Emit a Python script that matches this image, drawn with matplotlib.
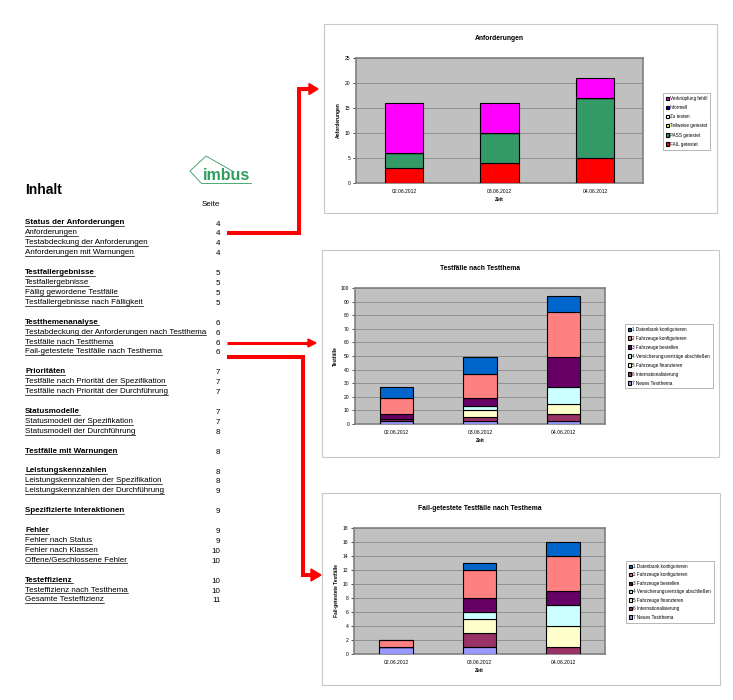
import numpy as np
import matplotlib
matplotlib.use('Agg')
import matplotlib.pyplot as plt
from matplotlib.patches import Rectangle, Polygon

plt.rcParams['font.family'] = ['Liberation Sans', 'DejaVu Sans']

W, H = 733, 700

# ---- data ----
dates = ['02.06.2012', '03.06.2012', '04.06.2012']

# Anforderungen (bottom -> top)
req_labels = ['FAIL getestet', 'PASS getestet', 'Teilweise getestet',
              'Zu testen', 'Informell', 'Verknüpfung fehlt!']
req_fail = [3, 4, 5]
req_pass = [3, 6, 12]
req_partial = [0, 0, 0]
req_todo = [0, 0, 0]
req_informal = [0, 0, 0]
req_nolink = [10, 6, 4]
req_colors = ['#FF0000', '#339966', '#FFFF00', '#FFFFFF', '#0000FF', '#FF00FF']

# Testthemen (bottom -> top: 7 ... 1)
topic_labels = ['7 Neues Testthema', '6 Internationalisierung',
                '5 Fahrzeuge finanzieren', '4 Versicherungsverträge abschließen',
                '3 Fahrzeuge bestellen', '2 Fahrzeuge konfigurieren',
                '1 Datenbank konfigurieren']
topic_colors = ['#9999FF', '#993366', '#FFFFCC', '#CCFFFF',
                '#660066', '#FF8080', '#0066CC']

tc_t7 = [2, 2, 2]
tc_t6 = [2, 3, 5]
tc_t5 = [0, 5, 8]
tc_t4 = [0, 3, 12]
tc_t3 = [3, 6, 22]
tc_t2 = [12, 18, 33]
tc_t1 = [8, 12, 12]

fail_t7 = [1, 1, 0]
fail_t6 = [0, 2, 1]
fail_t5 = [0, 2, 3]
fail_t4 = [0, 1, 3]
fail_t3 = [0, 2, 2]
fail_t2 = [1, 4, 5]
fail_t1 = [0, 1, 2]

# table of contents: (text, page, bold); None = blank line
toc = [
    ('Status der Anforderungen', '4', True),
    ('Anforderungen', '4', False),
    ('Testabdeckung der Anforderungen', '4', False),
    ('Anforderungen mit Warnungen', '4', False),
    None,
    ('Testfallergebnisse', '5', True),
    ('Testfallergebnisse', '5', False),
    ('Fällig gewordene Testfälle', '5', False),
    ('Testfallergebnisse nach Fälligkeit', '5', False),
    None,
    ('Testthemenanalyse', '6', True),
    ('Testabdeckung der Anforderungen nach Testthema', '6', False),
    ('Testfälle nach Testthema', '6', False),
    ('Fail-getestete Testfälle nach Testhema', '6', False),
    None,
    ('Prioritäten', '7', True),
    ('Testfälle nach Priorität der Spezifikation', '7', False),
    ('Testfälle nach Priorität der Durchführung', '7', False),
    None,
    ('Statusmodelle', '7', True),
    ('Statusmodell der Spezifikation', '7', False),
    ('Statusmodell der Durchführung', '8', False),
    None,
    ('Testfälle mit Warnungen', '8', True),
    None,
    ('Leistungskennzahlen', '8', True),
    ('Leistungskennzahlen der Spezifikation', '8', False),
    ('Leistungskennzahlen der Durchführung', '9', False),
    None,
    ('Spezifizierte Interaktionen', '9', True),
    None,
    ('Fehler', '9', True),
    ('Fehler nach Status', '9', False),
    ('Fehler nach Klassen', '10', False),
    ('Offene/Geschlossene Fehler', '10', False),
    None,
    ('Testeffizienz', '10', True),
    ('Testeffizienz nach Testthema', '10', False),
    ('Gesamte Testeffizienz', '11', False),
]


def px_axes(fig, x0, y0, x1, y1):
    return fig.add_axes([x0 / W, 1 - y1 / H, (x1 - x0) / W, (y1 - y0) / H])


def stacked_chart(fig, plot_box, series, labels, colors, title, ylabel,
                  ymax, ystep, legend_box, frame, spacing):
    bg.add_patch(Rectangle((frame[0], frame[1]), frame[2] - frame[0],
                           frame[3] - frame[1], facecolor='white',
                           edgecolor='#c8c8c8', lw=0.8, zorder=1))
    ax = px_axes(fig, *plot_box)
    ax.set_facecolor('#C0C0C0')
    x = np.arange(len(dates))
    bottom = np.zeros(len(dates))
    handles = []
    for vals, lab, col in zip(series, labels, colors):
        b = ax.bar(x, vals, 0.4, bottom=bottom, color=col, edgecolor='black',
                   lw=0.8, label=lab, zorder=3)
        handles.append(b)
        bottom += np.array(vals)
    ax.set_xlim(-0.5, len(dates) - 0.5)
    ax.set_ylim(0, ymax)
    ax.set_yticks(np.arange(0, ymax + 0.1, ystep))
    ax.set_xticks(x)
    ax.set_xticklabels(dates)
    ax.yaxis.grid(True, color='#8a8a8a', lw=0.6, zorder=0)
    ax.set_axisbelow(True)
    ax.tick_params(labelsize=3.6, length=2, width=0.5, pad=2)
    ax.tick_params(axis='x', length=0, pad=4.5)
    for s in ax.spines.values():
        s.set_color('#808080')
        s.set_linewidth(1.2)
    ax.set_title(title, fontsize=4.9, fontweight='bold', pad=13)
    ax.set_ylabel(ylabel, fontsize=3.5, fontweight='bold', labelpad=2.5)
    ax.set_xlabel('Zeit', fontsize=3.5, fontweight='bold', labelpad=2)
    lx0, ly0, lx1, ly1 = legend_box
    leg = ax.legend(handles[::-1], labels[::-1], fontsize=3.35,
                    loc='upper left',
                    bbox_to_anchor=(lx0 / W, 1 - ly0 / H),
                    bbox_transform=fig.transFigure,
                    frameon=True, fancybox=False, edgecolor='#808080',
                    handlelength=0.7, handleheight=0.7, handletextpad=0.2,
                    labelspacing=spacing, borderpad=0.6, borderaxespad=0)
    leg.get_frame().set_linewidth(0.5)
    return ax


fig = plt.figure(figsize=(W / 100, H / 100), dpi=100)
fig.patch.set_facecolor('white')
bg = fig.add_axes([0, 0, 1, 1], zorder=0)
bg.set_xlim(0, W)
bg.set_ylim(H, 0)
bg.axis('off')

# ---- charts ----
a1 = stacked_chart(fig, (356, 58, 643, 183),
                   [req_fail, req_pass, req_partial, req_todo, req_informal, req_nolink],
                   req_labels, req_colors, 'Anforderungen', 'Anforderungen',
                   25, 5, (663, 93, 712, 147), (324, 24, 717, 213), 0.9)
a2 = stacked_chart(fig, (355, 288, 605, 424),
                   [tc_t7, tc_t6, tc_t5, tc_t4, tc_t3, tc_t2, tc_t1],
                   topic_labels, topic_colors, 'Testfälle nach Testthema',
                   'Testfälle', 100, 10, (625, 324, 713, 388), (322, 250, 719, 457), 0.85)
a3 = stacked_chart(fig, (354, 528, 605, 654),
                   [fail_t7, fail_t6, fail_t5, fail_t4, fail_t3, fail_t2, fail_t1],
                   topic_labels, topic_colors, 'Fail-getestete Testfälle nach Testhema',
                   'Fail-getestete Testfälle', 18, 2, (626, 561, 713, 621),
                   (322, 493, 720, 685), 0.75)

# ---- table of contents ----
bg.text(25, 190, 'Inhalt', fontsize=10, fontweight='bold', va='center', ha='left')
bg.text(220.5, 204, 'Seite', fontsize=5.8, va='center', ha='right')

row_y0, row_step = 223, 9.92
toc_texts = []
for i, item in enumerate(toc):
    if item is None:
        continue
    label, page, bold = item
    y = row_y0 + i * row_step
    t = bg.text(25, y, label, fontsize=5.8, va='center', ha='left',
                fontweight='bold' if bold else 'normal')
    toc_texts.append(t)
    bg.text(220.5, y + 1, page, fontsize=5.8, va='center', ha='right')

# logo
bg.plot([201, 190, 206, 234], [183, 171, 156, 172], color='#2E9D5E', lw=0.6)
bg.plot([201, 251], [183, 183], color='#2E9D5E', lw=0.6)
bg.text(227, 175.5, 'imbus', fontsize=11.5, fontweight='bold', color='#2E9D5E',
        ha='center', va='center')

# ---- red arrows ----
red = '#FF0000'
bg.plot([227, 299, 299, 310], [233, 233, 89, 89], color=red, lw=2.9,
        solid_capstyle='butt', solid_joinstyle='miter')
bg.add_patch(Polygon([[309, 83.5], [318, 89], [309, 94.5]], closed=True,
                     color=red))
bg.plot([227, 309], [343, 343], color=red, lw=2.2, solid_capstyle='butt')
bg.add_patch(Polygon([[308, 339], [316, 343], [308, 347]], closed=True,
                     color=red))
bg.plot([227, 303, 303, 312], [356.5, 356.5, 575, 575], color=red, lw=2.9,
        solid_capstyle='butt', solid_joinstyle='miter')
bg.add_patch(Polygon([[311, 569], [321, 575], [311, 581]], closed=True,
                     color=red))

# underline the TOC entries
fig.canvas.draw()
renderer = fig.canvas.get_renderer()
inv = bg.transData.inverted()
for t in toc_texts:
    bb = t.get_window_extent(renderer)
    (x0, y0), (x1, _) = inv.transform([[bb.x0, bb.y0], [bb.x1, bb.y1]])
    bg.plot([x0, x1], [y0 - 0.3, y0 - 0.3], color='black', lw=0.5)

fig.savefig('out.png', dpi=100)
